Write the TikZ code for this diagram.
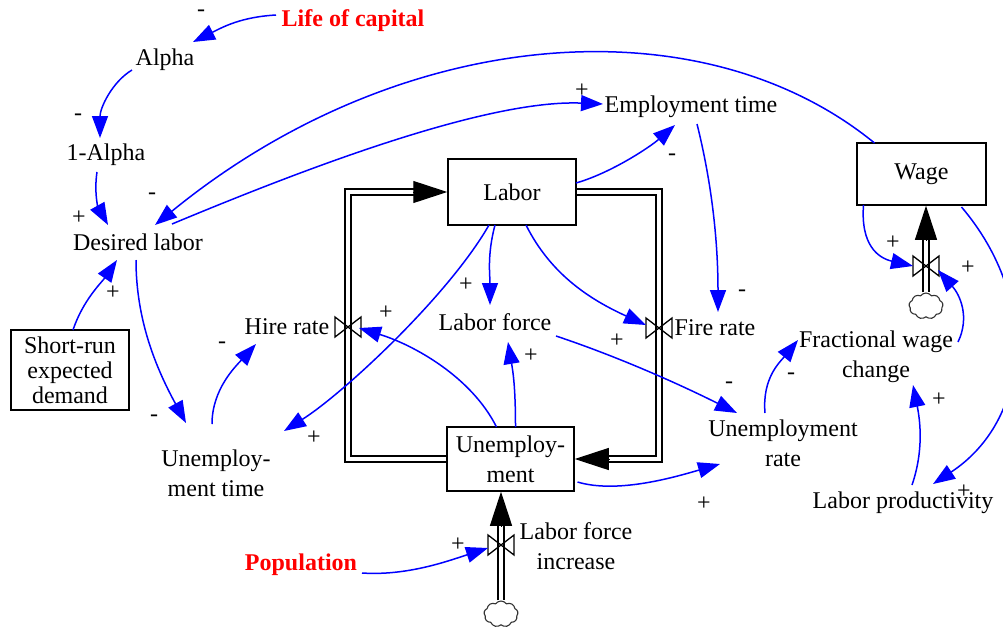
\documentclass[tikz,border=0pt]{standalone}
\usepackage{fontspec}
\setmainfont{Liberation Serif}
\usetikzlibrary{arrows.meta,shapes.symbols}
\definecolor{linkblue}{RGB}{0,0,255}
\definecolor{varred}{RGB}{255,0,0}
\newcommand\valvedraw[1]{\draw[valveline] ([shift={(-13,-10)}]#1.center) -- ([shift={(-13,10)}]#1.center) -- ([shift={(13,-10)}]#1.center) -- ([shift={(13,10)}]#1.center) -- cycle;}
\begin{document}
\begin{tikzpicture}[x=1pt,y=-1pt, font=\fontsize{24}{30}\selectfont,
  var/.style={inner sep=1pt, align=center},
  stock/.style={draw, line width=1.5pt, inner sep=0pt, align=center},
  ext/.style={inner sep=1pt, text=varred, font=\fontsize{24}{30}\selectfont\bfseries},
  pol/.style={inner sep=0pt},
  link/.style={draw=linkblue, line width=1.5pt, -{Triangle[length=22pt,width=16pt]}},
  pipe/.style={draw=black, double=white, double distance=4.5pt, line width=1.4pt},
  pipehead/.style={-{Triangle[length=34pt,width=22pt]}, line width=1pt},
  valvenode/.style={inner sep=0pt, minimum width=26pt, minimum height=20pt},
  valveline/.style={draw, line width=1.3pt, line join=miter},
  cloudnode/.style={cloud, cloud puffs=9, cloud puff arc=110, draw=black!80, line width=1.1pt, minimum width=34pt, minimum height=26pt, inner sep=0pt}
]
\useasboundingbox (0,0) rectangle (1003,627);

% variables
\node[ext] (loc) at (353,21) {Life of capital};
\node[ext] (pop) at (301,565) {Population};
\node[var] (alpha) at (165,60) {Alpha};
\node[var] (oma) at (106,155) {1-Alpha};
\node[var] (dl) at (138,242) {Desired labor};
\node[stock, minimum width=118pt, minimum height=80pt] (sred) at (70,370) {Short-run\\[-5pt]expected\\[-5pt]demand};
\node[var] (hr) at (287,327) {Hire rate};
\node[var] (lf) at (495,322) {Labor force};
\node[var] (fr) at (715,328) {Fire rate};
\node[var] (et) at (691,107) {Employment time};
\node[var] (fwc) at (876,357) {Fractional wage\\change};
\node[var] (ur) at (783,443) {Unemployment\\rate};
\node[var] (lp) at (903,503) {Labor productivity};
\node[var] (lfi) at (576,546) {Labor force\\increase};
\node[var] (ut) at (216,473) {Unemploy-\\ment time};

% stocks
\node[stock, minimum width=128pt, minimum height=66pt] (labor) at (512,192) {Labor};
\node[stock, minimum width=127pt, minimum height=64pt] (unemp) at (510.5,459) {Unemploy-\\ment};
\node[stock, minimum width=129pt, minimum height=62pt] (wage) at (921.5,174) {Wage};

% valves and clouds
\node[valvenode] (hrv) at (348,327) {};
\node[valvenode] (frv) at (659,328) {};
\node[valvenode] (wv) at (926,266) {};
\node[valvenode] (lfiv) at (501,545) {};
\node[cloudnode] (wc) at (926,306) {};
\node[cloudnode] (lfic) at (501,614) {};

% pipes
\draw[pipe, shorten >=33pt] (unemp.west) -| (hrv.center) |- (labor.west);
\draw[pipehead] ([xshift=-34pt]labor.west) -- (labor.west);
\draw[pipe, shorten >=33pt] (labor.east) -| (frv.center) |- (unemp.east);
\draw[pipehead] ([xshift=34pt]unemp.east) -- (unemp.east);
\coordinate (wtop) at (wc.north |- wage.south);
\draw[pipe, shorten >=33pt] (wc.north) -- (wtop);
\draw[pipehead] ([yshift=-34pt]wtop) -- (wtop);
\coordinate (ubot) at (lfic.north |- unemp.south);
\draw[pipe, shorten >=33pt] (lfic.north) -- (ubot);
\draw[pipehead] ([yshift=-34pt]ubot) -- (ubot);

\valvedraw{hrv}
\valvedraw{frv}
\valvedraw{wv}
\valvedraw{lfiv}

% causal links
\draw[link] ([shift={(-77,-6)}]loc.center) .. controls +(-35,2) and +(30,-15) .. ([shift={(28,-18)}]alpha.center);
\draw[link] ([shift={(-33,10)}]alpha.center) .. controls +(-20,12) and +(0,-30) .. ([shift={(-6,-17)}]oma.center);
\draw[link] ([shift={(-9,17)}]oma.center) .. controls +(-3,20) and +(-10,-18) .. ([shift={(-30,-17)}]dl.center);
\draw[link] ([shift={(-47,-31)}]wage.center) .. controls +(-174,-142) and +(245,-200) .. ([shift={(17,-17)}]dl.center);
\draw[link] ([shift={(34,-18)}]dl.center) .. controls +(120,-50) and +(-120,-5) .. ([shift={(-88,-3)}]et.center);
\draw[link] ([shift={(64,-9)}]labor.center) .. controls +(35,-10) and +(-25,22) .. ([shift={(-16,18)}]et.center);
\draw[link] ([shift={(6,17)}]et.center) .. controls +(15,60) and +(0,-70) .. ([shift={(3,-16)}]fr.center);
\draw[link] ([shift={(-2,18)}]dl.center) .. controls +(0,60) and +(-30,-55) .. ([shift={(-30,-50)}]ut.center);
\draw[link] ([shift={(3,-40)}]sred.center) .. controls +(10,-30) and +(-15,22) .. ([shift={(-21,18)}]dl.center);
\draw[link] ([shift={(-4,-49)}]ut.center) .. controls +(0,-35) and +(-20,22) .. ([shift={(-31,17)}]hr.center);
\draw[link] ([shift={(-23,33)}]labor.center) .. controls +(-40,70) and +(60,-38) .. ([shift={(68,-42)}]ut.center);
\draw[link] ([shift={(-17,33)}]labor.center) .. controls +(-8,30) and +(0,-30) .. ([shift={(-5,-17)}]lf.center);
\draw[link] ([shift={(14,33)}]labor.center) .. controls +(25,50) and +(-55,-25) .. ([shift={(-13,-3)}]frv.center);
\draw[link] ([shift={(-14,-32)}]unemp.center) .. controls +(-25,-50) and +(55,17) .. ([shift={(11,1)}]hrv.center);
\draw[link] ([shift={(5,-32)}]unemp.center) .. controls +(0,-40) and +(5,30) .. ([shift={(13,20)}]lf.center);
\draw[link] ([shift={(61,14)}]lf.center) .. controls +(60,20) and +(-60,-30) .. ([shift={(-46,-30)}]ur.center);
\draw[link] ([shift={(67,23)}]unemp.center) .. controls +(40,12) and +(-45,13) .. ([shift={(-63,21)}]ur.center);
\draw[link] ([shift={(-18,-30)}]ur.center) .. controls +(-3,-35) and +(-18,22) .. ([shift={(-78,-17)}]fwc.center);
\draw[link] ([shift={(9,-18)}]lp.center) .. controls +(12,-35) and +(7,35) .. ([shift={(37,28)}]fwc.center);
\draw[link] ([shift={(-58,31)}]wage.center) .. controls +(-3,40) and +(-35,-8) .. ([shift={(-13,0)}]wv.center);
\draw[link] ([shift={(82,-15)}]fwc.center) .. controls +(12,-25) and +(22,25) .. ([shift={(12,4)}]wv.center);
\draw[link] ([shift={(40,33)}]wage.center) .. controls +(79,93) and +(97,-64) .. ([shift={(30,-19)}]lp.center);
\draw[link] ([shift={(61,8)}]pop.center) .. controls +(45,3) and +(-40,13) .. ([shift={(-13,3)}]lfiv.center);

% polarities
\node[pol] (p1) at (201,13) {-};
\node[pol] (p2) at (78,117) {-};
\node[pol] (p3) at (79,218) {+};
\node[pol] (p4) at (152,196) {-};
\node[pol] (p5) at (582,91) {+};
\node[pol] (p6) at (672,157) {-};
\node[pol] (p7) at (742,293) {-};
\node[pol] (p8) at (154,418) {-};
\node[pol] (p9) at (113,293) {+};
\node[pol] (p10) at (222,345) {-};
\node[pol] (p11) at (314,438) {+};
\node[pol] (p12) at (466,285) {+};
\node[pol] (p13) at (617,341) {+};
\node[pol] (p14) at (386,313) {+};
\node[pol] (p15) at (531,356) {+};
\node[pol] (p16) at (729,385) {-};
\node[pol] (p17) at (704,504) {+};
\node[pol] (p18) at (791,376) {-};
\node[pol] (p19) at (939,400) {+};
\node[pol] (p20) at (893,243) {+};
\node[pol] (p21) at (968,268) {+};
\node[pol] (p22) at (964,492) {+};
\node[pol] (p23) at (458,545) {+};
\end{tikzpicture}
\end{document}
